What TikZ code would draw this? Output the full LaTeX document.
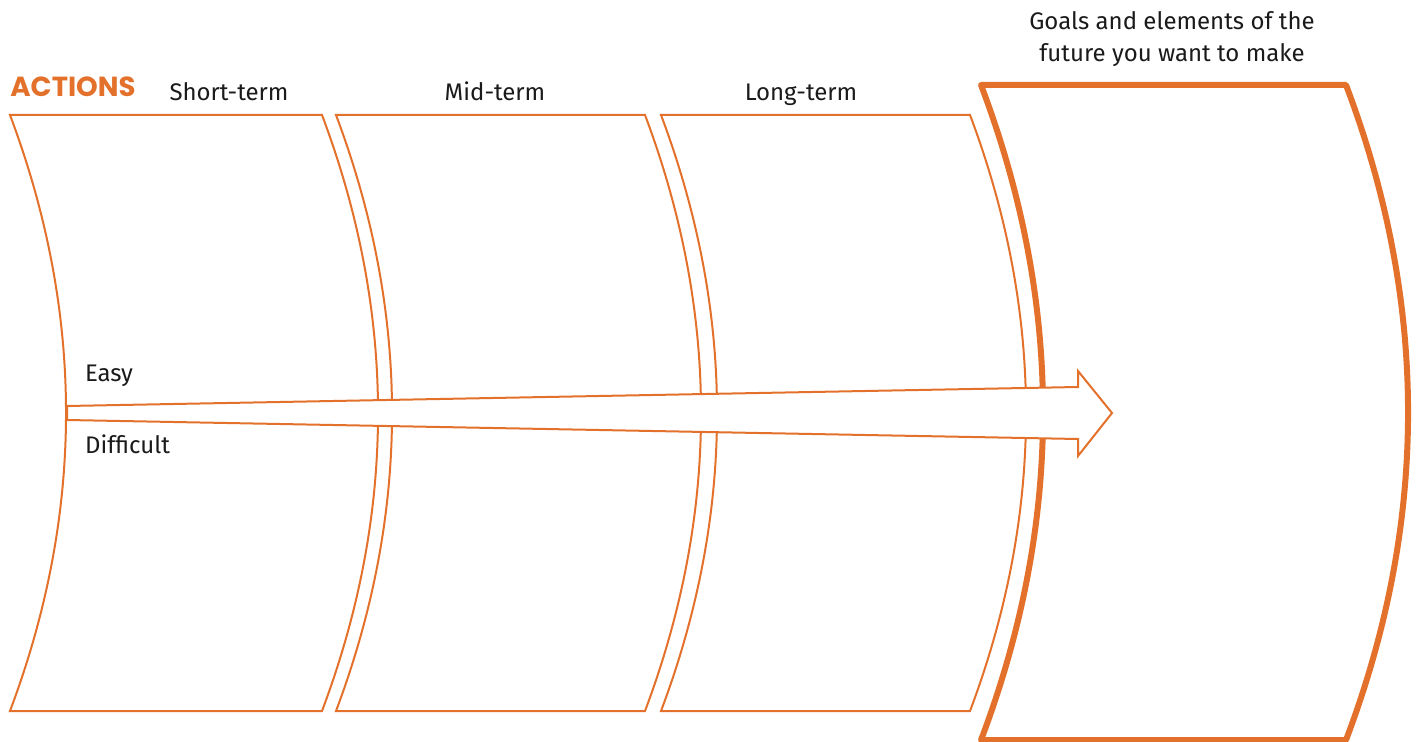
\documentclass[tikz,border=0pt]{standalone}
\usepackage{fontspec}
\setmainfont{Fira Sans}
\newfontfamily\headfont{Poppins}
\usepackage{xcolor}
\usetikzlibrary{positioning}

\definecolor{ActOrange}{RGB}{227,113,43}
\definecolor{LabelInk}{RGB}{26,26,26}

\tikzset{
	panel/.style={draw=ActOrange, line width=1pt, line join=miter},
	goalpanel/.style={draw=ActOrange, line width=3pt, line join=round},
	bigarrow/.style={draw=ActOrange, fill=white, line width=1pt, line join=miter},
	termlabel/.style={anchor=base, text=LabelInk, font=\fontsize{12}{14}\selectfont},
	sidelabel/.style={anchor=base west, text=LabelInk, font=\fontsize{12}{14}\selectfont},
}

\begin{document}
\begin{tikzpicture}[x=0.5pt, y=-0.5pt]
	
	% ------------------------------------------------
	% Ensure the dimensions of graphic are appropriate
	\useasboundingbox (0,0) rectangle (1416,742);
	
	% ------------------------------------------------
	% Term panels, both sides bowed to the right
	\foreach \xl/\xr in {10/322, 336/645, 661/970}{
		\draw[panel] (\xl,115) -- (\xr,115)
			.. controls (\xr+74.7,313.7) and (\xr+74.7,512.3) .. (\xr,711)
			-- (\xl,711)
			.. controls (\xl+74.7,512.3) and (\xl+74.7,313.7) .. (\xl,115) -- cycle;
	}
	
	% ----------------
	% Goal panel
	\draw[goalpanel] (981,85) -- (1346,85)
		.. controls (1428.7,303.3) and (1428.7,521.7) .. (1346,740)
		-- (981,740)
		.. controls (1063.7,521.7) and (1063.7,303.3) .. (981,85) -- cycle;
	
	% ----------------
	% Widening arrow across the panels
	\draw[bigarrow] (67,406) -- (1078,387) -- (1078,371) -- (1112,413)
		-- (1078,456) -- (1078,439) -- (67,420) -- cycle;
	
	%%%%%%%%%%%%%%%%%%%%%%%%%%%%%%%%%%%%%%%%%
	% Labels
	\node[anchor=base west, inner sep=0pt, text=ActOrange, font=\fontsize{13.8}{16}\headfont\bfseries] (Actions) at (10,97) {ACTIONS};
	
	\node[termlabel] (ShortTerm) at (229,101) {Short-term};
	\node[termlabel] (MidTerm)   at (495,101) {Mid-term};
	\node[termlabel] (LongTerm)  at (801,101) {Long-term};
	
	% base of a two-line node sits on its last line
	\node[termlabel, align=center, font=\fontsize{12}{16}\selectfont] (Goals) at (1172,62)
		{Goals and elements of the\\future you want to make};
	
	\node[sidelabel] (Easy)      at (78,382) {Easy};
	\node[sidelabel] (Difficult) at (78,453) {Difficult};
	
\end{tikzpicture}
\end{document}
